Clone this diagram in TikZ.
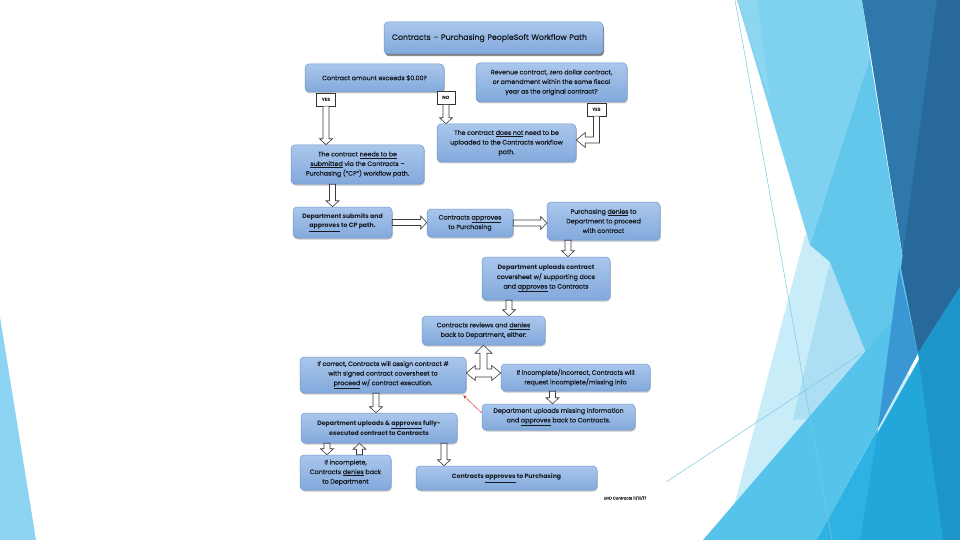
\documentclass[tikz,border=0pt]{standalone}
\usepackage{fontspec}
\setmainfont{Poppins}[UprightFeatures={FakeBold=0.35}]
\usetikzlibrary{calc,shadows,arrows.meta}
\definecolor{boxtop}{HTML}{AAC7EC}
\definecolor{boxbot}{HTML}{82A9DC}
\definecolor{boxborder}{HTML}{6E97CE}
\definecolor{textc}{HTML}{15191F}
\definecolor{arrowc}{HTML}{3A3A3A}
\definecolor{redc}{HTML}{E02828}
\definecolor{bgL}{HTML}{8CD4F1}
\definecolor{bgPale}{HTML}{C9ECF9}
\definecolor{bgPtwo}{HTML}{ACDFF4}
\definecolor{bgLight}{HTML}{7FD1F0}
\definecolor{bgLtop}{HTML}{8DD6F2}
\definecolor{bgMed}{HTML}{63C7EC}
\definecolor{bgDone}{HTML}{2F78AB}
\definecolor{bgDtwo}{HTML}{27699B}
\definecolor{bgBD}{HTML}{55C3EA}
\definecolor{bgW}{HTML}{3B97D3}
\definecolor{bgR}{HTML}{23A7DB}
\definecolor{bgS}{HTML}{2EB2E3}
\definecolor{bgRtwo}{HTML}{1B95CA}
\definecolor{bgLine}{HTML}{7CC8E6}
\newcommand{\barD}[2]{\draw[barrow] let \p1=(#1), \p2=(#2) in
  (\x1-3pt,\y1) -- (\x1-3pt,\y2+6pt) -- (\x1-6.5pt,\y2+6pt) -- (\x1,\y2) --
  (\x1+6.5pt,\y2+6pt) -- (\x1+3pt,\y2+6pt) -- (\x1+3pt,\y1) -- cycle;}
\newcommand{\barU}[2]{\draw[barrow] let \p1=(#1), \p2=(#2) in
  (\x1-3pt,\y1) -- (\x1-3pt,\y2-6pt) -- (\x1-6.5pt,\y2-6pt) -- (\x1,\y2) --
  (\x1+6.5pt,\y2-6pt) -- (\x1+3pt,\y2-6pt) -- (\x1+3pt,\y1) -- cycle;}
\newcommand{\barR}[2]{\draw[barrow] let \p1=(#1), \p2=(#2) in
  (\x1,\y1-3pt) -- (\x2-6pt,\y1-3pt) -- (\x2-6pt,\y1-6.5pt) -- (\x2,\y1) --
  (\x2-6pt,\y1+6.5pt) -- (\x2-6pt,\y1+3pt) -- (\x1,\y1+3pt) -- cycle;}
\begin{document}
\begin{tikzpicture}[x=1pt,y=-1pt,
  box/.style={draw=boxborder, line width=0.5pt, rounded corners=4pt,
    top color=boxtop, bottom color=boxbot, align=center, text=textc,
    font=\fontsize{6.3}{9.6}\selectfont, inner sep=1pt,
    drop shadow={shadow xshift=0.8pt, shadow yshift=-1.5pt, opacity=0.3, fill=black!70}},
  boldbox/.style={box, font=\bfseries\fontsize{6.2}{9.6}\selectfont},
  titlebox/.style={box, font=\fontsize{7.8}{9}\selectfont, align=left,
    drop shadow={shadow xshift=1pt, shadow yshift=-2.2pt, opacity=0.55, fill=black!75}},
  tag/.style={draw=black!80, line width=0.4pt, fill=white, inner sep=0pt,
    font=\bfseries\fontsize{4.6}{5}\selectfont, minimum height=13pt},
  barrow/.style={draw=arrowc, line width=0.6pt, fill=white, line join=miter},
  redarrow/.style={draw=redc, line width=0.45pt, -{Stealth[length=3.5pt,width=3pt]}},
  bgline/.style={draw=bgLine, line width=0.5pt}
]
\useasboundingbox (0,0) rectangle (960,540);
\fill[white] (0,0) rectangle (960,540);
% ---------- background facets ----------
\fill[bgL] (0,317) -- (36,540) -- (0,540) -- cycle;
\fill[bgPale] (805,235) -- (870,250) -- (960,540) -- (725,540) -- cycle;
\fill[bgPtwo] (830,262) -- (868,353) -- (814,418) -- (793,420) -- cycle;
\fill[bgLight] (737,0) -- (862,0) -- (870,57) -- (810,245) -- cycle;
\fill[bgLtop] (737,0) -- (757,0) -- (770,100) -- cycle;
\fill[bgMed] (870,57) -- (918,353) -- (866,353) -- (830,262) -- (810,245) -- cycle;
\fill[bgDone] (862,0) -- (960,0) -- (960,287) -- (918,353) -- cycle;
\fill[bgDtwo] (937,0) -- (960,0) -- (960,287) -- (918,353) -- (901,268) -- cycle;
\fill[bgBD] (703,540) -- (890,323) -- (918,353) -- (817,540) -- cycle;
\fill[bgW] (899,268) -- (918,353) -- (878,428) -- cycle;
\fill[bgR] (960,287) -- (817,540) -- (960,540) -- cycle;
\fill[bgS] (878,428) -- (860,540) -- (817,540) -- cycle;
\fill[bgRtwo] (918,353) -- (960,287) -- (960,540) -- (943,540) -- cycle;
\draw[bgline] (735,0) -- (832,540);
\draw[bgline] (666,482) -- (862,353);
% ---------- nodes ----------
\node[titlebox, minimum width=219pt, minimum height=32pt, text width=203pt] (title) at (493.5,38)
  {Contracts – Purchasing PeopleSoft Workflow Path};
\node[box, minimum width=139pt, minimum height=28pt] (q1) at (374.5,78)
  {Contract amount exceeds \$0.00?};
\node[box, minimum width=151pt, minimum height=39pt] (q2) at (551.5,82.5)
  {Revenue contract, zero dollar contract,\\or amendment within the same fiscal\\year as the original contract?};
\node[tag, minimum width=19pt] (yes1) at (326,99.5) {YES};
\node[tag, minimum width=18pt] (no) at (446,98) {NO};
\node[tag, minimum width=19pt] (yes2) at (596.5,109.5) {YES};
\node[box, minimum width=133pt, minimum height=39pt] (b5) at (357.5,164.5)
  {The contract \underline{needs to be}\\\underline{submitted} via the Contracts –\\Purchasing (“CP”) workflow path.};
\node[box, minimum width=139pt, minimum height=38pt] (b6) at (506.5,143)
  {The contract \underline{does not} need to be\\uploaded to the Contracts workflow\\path.};
\node[boldbox, minimum width=99pt, minimum height=31pt] (b7) at (342.5,222.5)
  {Department submits and\\\underline{approves} to CP path.};
\node[box, minimum width=86pt, minimum height=28pt] (b8) at (470,223)
  {Contracts \underline{approves}\\to Purchasing};
\node[box, minimum width=113pt, minimum height=38pt] (b9) at (603.5,221)
  {Purchasing \underline{denies} to\\Department to proceed\\with contract};
\node[box, minimum width=128pt, minimum height=43pt] (b10) at (546,278.5)
  {\textbf{Department uploads contract}\\coversheet w/ supporting docs\\and \underline{approves} to Contracts};
\node[box, minimum width=123pt, minimum height=29pt] (b11) at (483.5,330.5)
  {Contracts reviews and \underline{denies}\\back to Department, either:};
\node[box, minimum width=166pt, minimum height=36pt] (b12) at (383,375)
  {If correct, Contracts will assign contract \#\\with signed contract coversheet to\\\underline{proceed} w/ contract execution.};
\node[box, minimum width=149pt, minimum height=27pt] (b13) at (575.5,377.5)
  {If incomplete/incorrect, Contracts will\\request incomplete/missing info};
\node[box, minimum width=153pt, minimum height=26pt] (b14) at (558.5,417)
  {Department uploads missing information\\and \underline{approves} back to Contracts.};
\node[boldbox, minimum width=156pt, minimum height=30pt] (b15) at (379,428)
  {Department uploads \& \underline{approves} fully-\\executed contract to Contracts};
\node[box, minimum width=91pt, minimum height=35pt] (b16) at (345.5,472.5)
  {If incomplete,\\Contracts \underline{denies} back\\to Department};
\node[boldbox, minimum width=181pt, minimum height=24pt] (b17) at (506.5,478)
  {Contracts \underline{approves} to Purchasing};
\node[font=\fontsize{3.9}{4}\selectfont, text=textc, inner sep=0pt] (foot) at (625,498) {UHD Contracts 11/21/17};
% ---------- block arrows ----------
\barD{yes1.south}{b5.north}
\barD{no.south}{b6.north}
\draw[barrow] let \p1=(yes2.south), \p2=($(b6.east)+(0pt,3pt)$) in
  (\x1-3pt,\y1) -- (\x1+3pt,\y1) -- (\x1+3pt,\y2-3pt) -- (\x2+9pt,\y2-3pt) --
  (\x2+9pt,\y2-7.5pt) -- (\x2,\y2) -- (\x2+9pt,\y2+7.5pt) -- (\x2+9pt,\y2+3pt) --
  (\x1-3pt,\y2+3pt) -- cycle;
\barD{$(b5.south)+(-25pt,0pt)$}{b7.north}
\barR{b7.east}{b8.west}
\barR{b8.east}{b9.west}
\barD{$(b9.south)+(-35.5pt,0pt)$}{b10.north}
\barD{$(b10.south)+(-37pt,0pt)$}{b11.north}
\draw[barrow] let \p1=(b11.south), \p2=(b12.east), \p3=(b13.west), \p4=($(b12.east)+(0pt,2pt)$) in
  (\x1,\y1) -- (\x1+8.5pt,\y1-8pt) -- (\x1+3.5pt,\y1-8pt) -- (\x1+3.5pt,\y4+4pt) --
  (\x3-9pt,\y4+4pt) -- (\x3-9pt,\y4+7.5pt) -- (\x3,\y4) -- (\x3-9pt,\y4-7.5pt) --
  (\x3-9pt,\y4-4pt) -- (\x2+9pt,\y4-4pt) -- (\x2+9pt,\y4-7.5pt) -- (\x2,\y4) --
  (\x2+9pt,\y4+7.5pt) -- (\x2+9pt,\y4+4pt) -- (\x1-3.5pt,\y4+4pt) -- (\x1-3.5pt,\y1-8pt) --
  (\x1-8.5pt,\y1-8pt) -- cycle;
\barD{$(b13.south)+(-23pt,0pt)$}{b14.north}
\draw[redarrow] ($(b14.west)+(0pt,4pt)$) -- ($(b12.south east)+(-3pt,-2pt)$);
\barD{$(b12.south)+(-7pt,0pt)$}{b15.north}
\barD{$(b15.south)+(-52pt,0pt)$}{b16.north}
\barU{$(b16.north)+(14pt,0pt)$}{b15.south}
\barD{$(b15.south)+(65pt,0pt)$}{b17.north}
\end{tikzpicture}
\end{document}
